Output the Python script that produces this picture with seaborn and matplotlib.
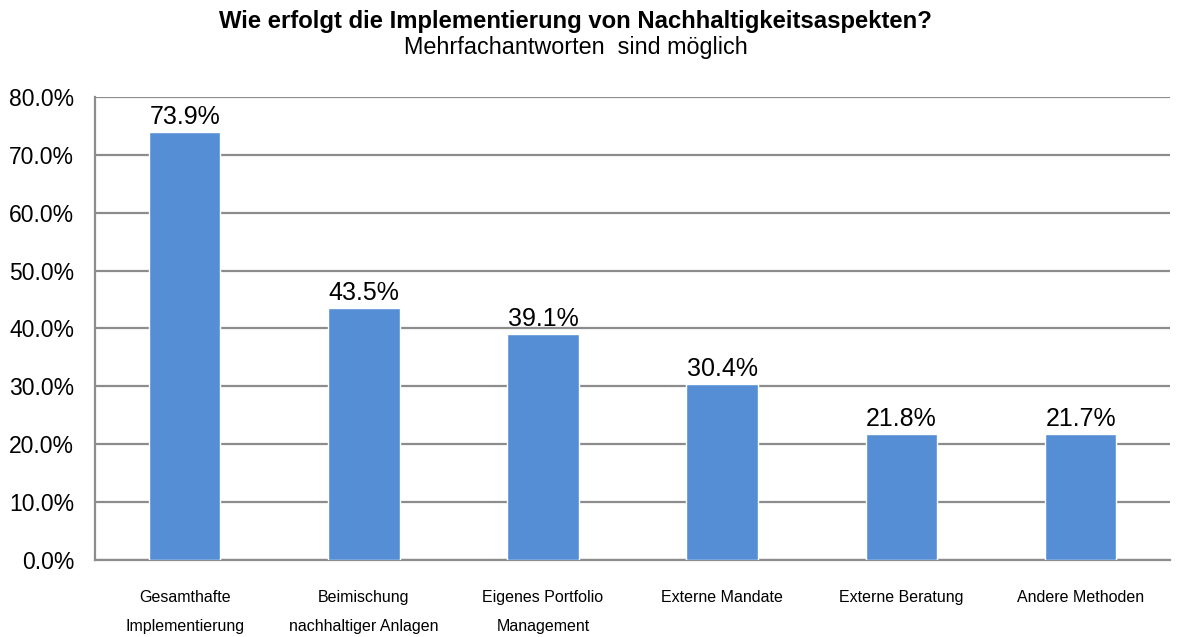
import pandas as pd
import matplotlib.pyplot as plt
import seaborn as sns

sns.set_theme(style="white")
plt.rcParams['font.family'] = ['Liberation Sans', 'DejaVu Sans']
plt.rcParams['text.color'] = 'black'
plt.rcParams['xtick.labelcolor'] = 'black'
plt.rcParams['ytick.labelcolor'] = 'black'

# Data
categories = ['Gesamthafte\nImplementierung', 'Beimischung\nnachhaltiger Anlagen',
              'Eigenes Portfolio\nManagement', 'Externe Mandate',
              'Externe Beratung', 'Andere Methoden']
shares = [73.9, 43.5, 39.1, 30.4, 21.8, 21.7]
y_ticks = [0, 10, 20, 30, 40, 50, 60, 70, 80]

df = pd.DataFrame({'Methode': categories, 'Anteil': shares})

fig = plt.figure(figsize=(11.82, 6.37), dpi=100)
ax = fig.add_axes([0.0804, 0.121, 0.9096, 0.7268])

sns.barplot(data=df, x='Methode', y='Anteil', color='#558ED5', width=0.4,
            saturation=1, ax=ax, zorder=3)

# value labels above bars
for i, v in enumerate(shares):
    ax.text(i, v + 0.5, f'{v:.1f}%', ha='center', va='bottom', fontsize=18, color='black')

ax.set_ylim(0, 80)
ax.set_xlim(-0.5, len(categories) - 0.5)
ax.set_yticks(y_ticks)
ax.set_yticklabels([f'{t:.1f}%' for t in y_ticks], fontsize=16.5)
ax.yaxis.grid(True, color='#8c8c8c', linewidth=1.6, zorder=0)
ax.set_axisbelow(True)

# category labels centred, tick marks at the boundaries
ax.set_xticks(range(len(categories)))
ax.set_xticklabels(categories, fontsize=11.5, linespacing=2.15,
                   family=['Liberation Sans Narrow', 'Liberation Sans'])
ax.tick_params(axis='x', length=0, pad=22)
ax.set_xticks([i - 0.5 for i in range(len(categories) + 1)], minor=True)
ax.tick_params(axis='x', which='minor', length=6, width=1.6, color='#8c8c8c', direction='out')
ax.tick_params(axis='y', length=6, width=1.6, color='#8c8c8c', direction='out', pad=9)

for side in ['top', 'right']:
    ax.spines[side].set_visible(False)
for side in ['left', 'bottom']:
    ax.spines[side].set_color('#8c8c8c')
    ax.spines[side].set_linewidth(1.6)

ax.set_xlabel('')
ax.set_ylabel('')

fig.text(0.487, 0.967, 'Wie erfolgt die Implementierung von Nachhaltigkeitsaspekten?',
         ha='center', va='center', fontsize=17.2, fontweight='bold')
fig.text(0.487, 0.926, 'Mehrfachantworten  sind möglich', ha='center', va='center', fontsize=16.8)

plt.savefig('out.png', dpi=100)
